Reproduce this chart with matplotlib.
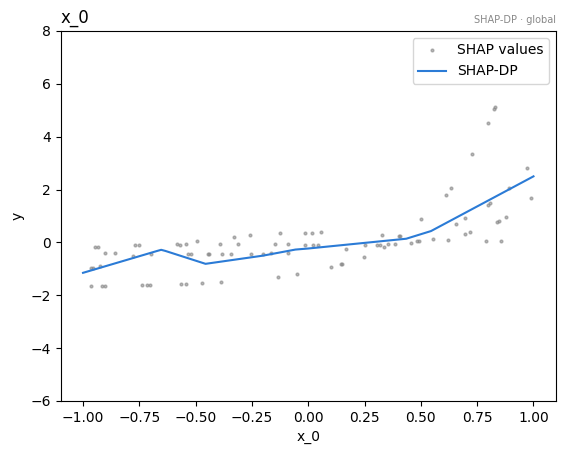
import matplotlib
matplotlib.use("Agg")
import matplotlib.pyplot as plt

# SHAP values (scatter)
shap_x = [-0.948, -0.933, -0.903, -0.858, -0.769, -0.752, -0.778, -0.700, -0.582, -0.570,
          -0.543, -0.494, -0.534, -0.521, -0.966, -0.954, -0.924, -0.964, -0.914, -0.902,
          -0.738, -0.714, -0.703, -0.566, -0.543, -0.472, -0.393, -0.330, -0.313, -0.259,
          -0.127, -0.015, 0.015, -0.149, -0.091, -0.015, 0.019, -0.447, -0.441, -0.384,
          -0.344, -0.255, -0.201, -0.167, -0.091, -0.388, -0.135, -0.051, 0.055, 0.042,
          0.166, 0.100, 0.144, 0.149, 0.246, 0.252, 0.326, 0.304, 0.317, 0.335,
          0.353, 0.384, 0.405, 0.409, 0.454, 0.481, 0.490, 0.502, 0.556, 0.619,
          0.654, 0.610, 0.632, 0.694, 0.698, 0.720, 0.787, 0.796, 0.809, 0.836,
          0.845, 0.858, 0.876, 0.890, 0.991, 0.973, 0.827, 0.823, 0.796, 0.729]
shap_y = [-0.16, -0.16, -0.39, -0.39, -0.09, -0.09, -0.50, -0.43, -0.05, -0.09,
          -0.05, 0.04, -0.43, -0.43, -0.96, -0.96, -0.88, -1.64, -1.64, -1.64,
          -1.60, -1.60, -1.60, -1.56, -1.56, -1.53, -0.05, 0.22, -0.05, 0.29,
          0.37, 0.37, 0.37, -0.05, -0.05, -0.09, -0.09, -0.43, -0.43, -0.43,
          -0.43, -0.43, -0.43, -0.39, -0.39, -1.49, -1.30, -1.19, 0.38, -0.09,
          -0.24, -0.92, -0.82, -0.82, -0.54, -0.09, 0.29, -0.09, -0.09, -0.16,
          -0.05, -0.05, 0.25, 0.25, -0.01, 0.04, 0.04, 0.87, 0.14, 0.10,
          0.71, 1.81, 2.07, 0.33, 0.94, 0.41, 0.06, 1.43, 1.50, 0.78,
          0.82, 0.06, 0.97, 2.07, 1.69, 2.83, 5.14, 5.03, 4.53, 3.36]

# SHAP-DP curve
dp_x = [-1.0, -0.67, -0.653, -0.635, -0.456, -0.201, -0.057, 0.0, 0.435, 0.545, 1.0]
dp_y = [-1.15, -0.32, -0.28, -0.32, -0.81, -0.50, -0.27, -0.23, 0.14, 0.43, 2.5]

x_ticks = [-1.0, -0.75, -0.5, -0.25, 0.0, 0.25, 0.5, 0.75, 1.0]
y_ticks = [-6, -4, -2, 0, 2, 4, 6, 8]

fig = plt.figure(figsize=(5.65, 4.54), dpi=100)
ax = fig.add_axes([60.5 / 565, 53 / 454, 495.5 / 565, 370 / 454])

ax.plot(shap_x, shap_y, 'o', ms=2, color='#888888', alpha=0.6, label='SHAP values')
ax.plot(dp_x, dp_y, '-', color='#2b7bd6', lw=1.5, label='SHAP-DP')

ax.set_xlim(-1.1, 1.1)
ax.set_ylim(-6, 8)
ax.set_xticks(x_ticks)
ax.set_yticks(y_ticks)
ax.set_xlabel('x_0')
ax.set_ylabel('y')
ax.set_title('x_0', loc='left', fontsize=12)
ax.set_title('SHAP-DP · global', loc='right', fontsize=7, color='#888888')
ax.legend(loc='upper right')

fig.savefig('out.png', dpi=100)
